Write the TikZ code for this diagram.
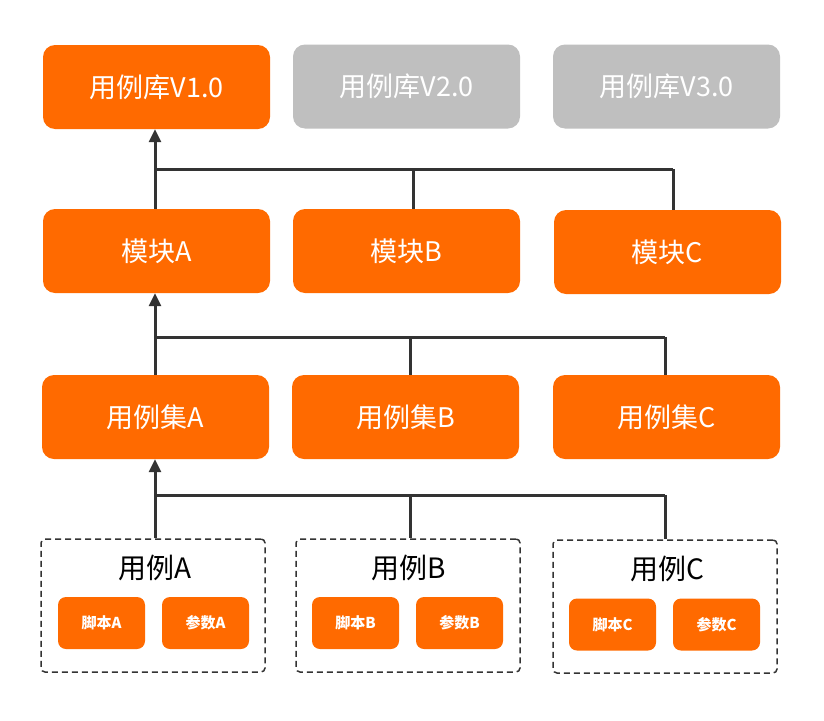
\documentclass[tikz,border=0pt]{standalone}
\usepackage{fontspec}
\setmainfont{Noto Sans CJK SC}
\usetikzlibrary{arrows.meta}
\definecolor{org}{HTML}{FF6A00}
\definecolor{gry}{HTML}{BFBFBF}
\definecolor{ln}{HTML}{333333}
\tikzset{
  bigbox/.style={fill=org, draw=none, rounded corners=12pt, minimum width=227pt, minimum height=84pt, text=white, font=\fontsize{27}{30}\selectfont, inner sep=0pt},
  graybox/.style={bigbox, fill=gry},
  casebox/.style={draw=ln, line width=1.5pt, dash pattern=on 6pt off 4pt, rounded corners=4pt, minimum width=224pt, minimum height=133pt, inner sep=0pt},
  smallbox/.style={fill=org, draw=none, rounded corners=8pt, minimum width=87pt, minimum height=52pt, text=white, font=\fontsize{15}{17}\selectfont\bfseries, inner sep=0pt},
  casetitle/.style={text=black, font=\fontsize{28}{31}\selectfont, inner sep=0pt},
  conn/.style={draw=ln, line width=3pt},
  arr/.style={conn, -{Triangle[length=13pt,width=12pt]}}
}
\begin{document}
\begin{tikzpicture}[x=1pt, y=-1pt]
\useasboundingbox (0,0) rectangle (824,720);
% row 1
\node[bigbox] (lib1) at (156.5,87) {用例库V1.0};
\node[graybox] (lib2) at (406.5,86.5) {用例库V2.0};
\node[graybox] (lib3) at (666.5,86.5) {用例库V3.0};
% row 2
\node[bigbox] (modA) at (156.5,251) {模块A};
\node[bigbox] (modB) at (406.5,251) {模块B};
\node[bigbox] (modC) at (667.5,252) {模块C};
% row 3
\node[bigbox] (setA) at (155.5,417) {用例集A};
\node[bigbox] (setB) at (405.5,417) {用例集B};
\node[bigbox] (setC) at (666.5,417) {用例集C};
% row 4
\node[casebox] (caseA) at (153,605.5) {};
\node[casebox] (caseB) at (408,605.5) {};
\node[casebox] (caseC) at (665,606.5) {};
\node[casetitle] (tA) at (155,568) {用例A};
\node[casetitle] (tB) at (409,568) {用例B};
\node[casetitle] (tC) at (667,569) {用例C};
\node[smallbox] (sA) at (101.5,623) {脚本A};
\node[smallbox] (pA) at (205.5,623) {参数A};
\node[smallbox] (sB) at (355.5,623) {脚本B};
\node[smallbox] (pB) at (459.5,623) {参数B};
\node[smallbox] (sC) at (612.5,624.5) {脚本C};
\node[smallbox] (pC) at (716.5,624.5) {参数C};
% junction coordinates
\coordinate (j1) at (155,169);
\coordinate (j1r) at (673,169);
\coordinate (j2) at (155,337);
\coordinate (j2r) at (665,337);
\coordinate (j3) at (155,495);
\coordinate (j3r) at (665,495);
% layer 1 connectors
\draw[arr] (modA.north -| j1) -- (lib1.south -| j1);
\draw[conn] (j1) -- (j1r);
\draw[conn] (j1 -| 413,0) -- (modB.north -| 413,0);
\draw[conn] (j1r) -- (modC.north -| j1r);
% layer 2 connectors
\draw[arr] (setA.north -| j2) -- (modA.south -| j2);
\draw[conn] (j2) -- (j2r);
\draw[conn] (j2 -| 410,0) -- (setB.north -| 410,0);
\draw[conn] (j2r) -- (setC.north -| j2r);
% layer 3 connectors
\draw[arr] (caseA.north -| j3) -- (setA.south -| j3);
\draw[conn] (j3) -- (j3r);
\draw[conn] (j3 -| 410,0) -- (caseB.north -| 410,0);
\draw[conn] (j3r) -- (caseC.north -| j3r);
\end{tikzpicture}
\end{document}
